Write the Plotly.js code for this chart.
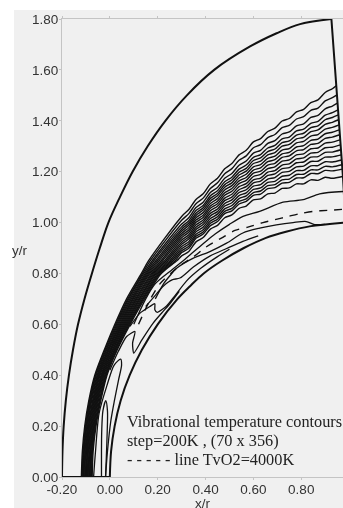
<!DOCTYPE html>
<html><head><meta charset="utf-8">
<script src="https://cdn.plot.ly/plotly-3.0.1.min.js"></script>
<style>html,body{margin:0;padding:0;background:#fff;overflow:hidden}
#bg{position:absolute;left:14px;top:10px;width:329px;height:498px;background:#f0f0f0}
#c{position:absolute;left:0;top:0;width:343px;height:508px;filter:blur(0.35px)}</style>
</head><body><div id="bg"></div><div id="c"></div>
<script>
const xTicks=[-0.2,0,0.2,0.4,0.6,0.8];
const xTickText=['-0.20','0.00','0.20','0.40','0.60','0.80'];
const yTicks=[0,0.2,0.4,0.6,0.8,1,1.2,1.4,1.6,1.8];
const yTickText=['0.00','0.20','0.40','0.60','0.80','1.00','1.20','1.40','1.60','1.80'];
const noteLines=['Vibrational temperature contours','step=200K , (70 x 356)','- - - - - line TvO2=4000K'];

const shockX=[-0.2,-0.198,-0.193,-0.184,-0.171,-0.154,-0.133,-0.106,-0.075,-0.042,-0.006,0.042,0.095,0.158,0.232,0.322,0.436,0.586,0.697,0.795,0.926];
const shockY=[0,0.1,0.2,0.3,0.4,0.5,0.6,0.7,0.8,0.9,1,1.1,1.2,1.3,1.4,1.5,1.6,1.692,1.744,1.78,1.8];
const outflowX=[0.926,0.975,0.985];
const outflowY=[1.8,1.17,1.0];
const baseX=[-0.2,0];
const baseY=[0,0];
const bodyX=[0,0.005,0.02,0.045,0.083,0.134,0.2,0.283,0.335,0.392,0.468,0.56,0.65,0.74,0.835,0.98];
const bodyY=[0,0.1,0.2,0.3,0.4,0.5,0.6,0.7,0.75,0.8,0.85,0.9,0.939,0.965,0.985,1.0];

const fanLeftY=[0,0.1,0.2,0.3,0.4,0.5,0.6,0.7,0.8,0.85];
const fanGridX=[0.30,0.33,0.36,0.39,0.42,0.45,0.48,0.51,0.54,0.57,0.60,0.63,0.66,0.69,0.72,0.75,0.78,0.81,0.84,0.87,0.90,0.93];

const fan01L=[-.119,-.115,-.105,-.088,-.063,-.023,.021,.07,.132,.162];
const fan02L=[-.116,-.112,-.102,-.085,-.060,-.020,.025,.075,.137,.169];
const fan03L=[-.113,-.109,-.099,-.082,-.057,-.016,.029,.079,.142,.177];
const fan04L=[-.111,-.107,-.096,-.079,-.053,-.013,.033,.084,.148,.184];
const fan05L=[-.108,-.104,-.093,-.076,-.050,-.009,.037,.089,.153,.192];
const fan06L=[-.105,-.101,-.090,-.072,-.047,-.006,.041,.094,.158,.199];
const fan07L=[-.102,-.098,-.088,-.069,-.044,-.003,.045,.098,.163,.206];
const fan08L=[-.099,-.095,-.085,-.066,-.041,.001,.049,.103,.168,.214];
const fan09L=[-.097,-.093,-.082,-.063,-.037,.004,.053,.108,.174,.221];
const fan10L=[-.094,-.090,-.079,-.060,-.034,.007,.057,.112,.179,.229];
const fan11L=[-.091,-.087,-.076,-.057,-.031,.011,.061,.117,.184,.236];
const fan12L=[-.088,-.084,-.073,-.054,-.028,.014,.065,.122,.189,.243];
const fan13L=[-.085,-.081,-.070,-.051,-.025,.018,.069,.126,.194,.251];
const fan14L=[-.083,-.079,-.067,-.048,-.021,.021,.073,.131,.200,.258];
const fan15L=[-.080,-.076,-.064,-.044,-.018,.024,.077,.136,.205,.265];
const fan16L=[-.077,-.073,-.061,-.041,-.015,.028,.081,.140,.210,.273];
const fan17L=[-.074,-.070,-.058,-.038,-.012,.031,.085,.145,.215,.280];

const fan01R=[1.024,1.051,1.091,1.113,1.152,1.174,1.211,1.232,1.266,1.284,1.317,1.330,1.358,1.371,1.399,1.409,1.435,1.445,1.471,1.482,1.511,1.526];
const fan02R=[1.009,1.035,1.074,1.096,1.134,1.156,1.192,1.212,1.245,1.262,1.294,1.306,1.334,1.346,1.373,1.382,1.407,1.416,1.441,1.450,1.478,1.491];
const fan03R=[.994,1.019,1.059,1.080,1.118,1.138,1.174,1.193,1.225,1.242,1.273,1.284,1.311,1.322,1.348,1.356,1.380,1.388,1.413,1.421,1.447,1.458];
const fan04R=[.983,1.007,1.047,1.067,1.105,1.125,1.160,1.178,1.210,1.226,1.256,1.267,1.293,1.303,1.329,1.336,1.360,1.367,1.390,1.398,1.422,1.432];
const fan05R=[.974,.998,1.037,1.058,1.095,1.114,1.149,1.167,1.198,1.213,1.244,1.254,1.279,1.289,1.314,1.321,1.344,1.351,1.373,1.380,1.404,1.413];
const fan06R=[.966,.989,1.028,1.049,1.085,1.105,1.139,1.156,1.187,1.202,1.232,1.241,1.266,1.275,1.300,1.307,1.329,1.335,1.357,1.364,1.386,1.394];
const fan07R=[.957,.980,1.019,1.039,1.075,1.094,1.128,1.145,1.175,1.190,1.219,1.228,1.252,1.261,1.285,1.291,1.313,1.319,1.340,1.346,1.367,1.374];
const fan08R=[.949,.971,1.010,1.029,1.065,1.084,1.117,1.134,1.164,1.177,1.206,1.215,1.239,1.247,1.270,1.276,1.297,1.302,1.323,1.328,1.349,1.355];
const fan09R=[.940,.962,1.001,1.020,1.056,1.074,1.107,1.123,1.153,1.166,1.194,1.202,1.226,1.233,1.256,1.262,1.282,1.287,1.307,1.311,1.331,1.336];
const fan10R=[.931,.952,.991,1.010,1.046,1.064,1.096,1.111,1.141,1.153,1.181,1.189,1.212,1.219,1.241,1.246,1.266,1.270,1.290,1.293,1.312,1.316];
const fan11R=[.923,.943,.982,1.001,1.036,1.053,1.086,1.100,1.129,1.141,1.168,1.175,1.198,1.204,1.226,1.231,1.250,1.254,1.273,1.276,1.294,1.296];
const fan12R=[.915,.935,.973,.992,1.026,1.043,1.075,1.089,1.118,1.129,1.156,1.163,1.185,1.191,1.212,1.216,1.235,1.238,1.257,1.259,1.276,1.277];
const fan13R=[.906,.925,.964,.982,1.016,1.033,1.065,1.078,1.106,1.117,1.143,1.149,1.171,1.177,1.197,1.201,1.219,1.222,1.240,1.241,1.257,1.258];
const fan14R=[.897,.916,.954,.972,1.006,1.023,1.054,1.067,1.094,1.105,1.130,1.136,1.158,1.162,1.182,1.186,1.204,1.205,1.223,1.224,1.239,1.238];
const fan15R=[.889,.907,.946,.963,.997,1.013,1.044,1.056,1.083,1.093,1.118,1.124,1.145,1.149,1.168,1.171,1.189,1.190,1.207,1.207,1.221,1.219];
const fan16R=[.882,.899,.938,.955,.988,1.004,1.035,1.046,1.073,1.083,1.107,1.112,1.133,1.137,1.155,1.158,1.175,1.176,1.193,1.192,1.205,1.203];
const fan17R=[.869,.886,.924,.941,.974,.989,1.019,1.030,1.056,1.065,1.089,1.093,1.113,1.116,1.134,1.136,1.152,1.152,1.168,1.166,1.178,1.174];

const fanEdgeX=[.946,.949,.951,.953,.955,.956,.958,.959,.961,.962,.964,.965,.967,.968,.970,.971,.973];
const fanEdgeY=[1.538,1.502,1.469,1.443,1.423,1.404,1.384,1.364,1.345,1.325,1.305,1.286,1.266,1.246,1.227,1.21,1.181];

const lineEX=[.10,.15,.19,.26,.30,.35,.40,.44,.50,.5565,.626,.724,.808,.877,.975];
const lineEY=[.60,.70,.76,.815,.845,.885,.925,.955,.993,1.024,1.044,1.08,1.09,1.113,1.122];
const dashX=[.12,.17,.21,.26,.307,.349,.404,.474,.523,.577,.64,.689,.745,.794,.85,.912,.975];
const dashY=[.60,.70,.76,.805,.84,.865,.905,.943,.969,.982,1.0,1.011,1.024,1.035,1.044,1.048,1.052];
const lineGX=[.19,.225,.25,.279,.349,.418,.488,.556,.626,.696,.766,.821,.856,.90];
const lineGY=[.70,.76,.79,.82,.86,.886,.919,.959,.978,.991,1.0,1.004,.992,.993];
const lineHX=[.15,.195,.223,.26,.293,.349,.418,.488,.556,.62];
const lineHY=[.67,.72,.75,.775,.782,.825,.868,.898,.926,.948];
const wiggleAX=[.084,.126,.167,.188,.188,.198,.237,.27,.32,.38,.45,.50];
const wiggleAY=[.592,.644,.670,.681,.657,.647,.672,.71,.77,.82,.866,.895];
const wiggleBX=[.0,.035,.07,.105,.095,.100,.134,.181,.22,.25,.29];
const wiggleBY=[.42,.493,.552,.572,.526,.487,.539,.605,.648,.68,.73];
const finger1X=[-.035,-.035,-.034,-.029,-.017,-.010,-.012,-.018];
const finger1Y=[0,.1,.18,.26,.30,.26,.15,0];
const finger2X=[-.068,-.06,-.045,-.012,.018,.045,.049,.036,.019,.004,-.010,-.018];
const finger2Y=[0,.1,.25,.36,.44,.463,.44,.38,.30,.22,.10,0];

const rows=[
 [fan01L,fan01R],[fan02L,fan02R],[fan03L,fan03R],[fan04L,fan04R],[fan05L,fan05R],[fan06L,fan06R],
 [fan07L,fan07R],[fan08L,fan08R],[fan09L,fan09R],[fan10L,fan10R],[fan11L,fan11R],[fan12L,fan12R],
 [fan13L,fan13R],[fan14L,fan14R],[fan15L,fan15R],[fan16L,fan16R],[fan17L,fan17R]];
function tr(x,y,w,shape,dash,sm){return {type:'scatter',mode:'lines',x:x,y:y,cliponaxis:false,hoverinfo:'skip',showlegend:false,
  line:{color:'#111',width:w,shape:shape||'spline',smoothing:sm||0.8,dash:dash||'solid'}};}
const traces=rows.map((r,i)=>tr(r[0].concat(fanGridX,[fanEdgeX[i]]),fanLeftY.concat(r[1],[fanEdgeY[i]]),1.4));
traces.push(tr(lineEX,lineEY,1.3),tr(dashX,dashY,1.4,'spline','8px,7px'),tr(lineGX,lineGY,1.3),tr(lineHX,lineHY,1.3),
 tr(wiggleAX,wiggleAY,1.3,'spline','solid',0.6),tr(wiggleBX,wiggleBY,1.3,'spline','solid',0.6),tr(finger1X,finger1Y,1.3),tr(finger2X,finger2Y,1.3),
 tr(shockX,shockY,2,'spline','solid',1),tr(outflowX,outflowY,2,'linear'),tr(baseX,baseY,2,'linear'),tr(bodyX,bodyY,2,'spline','solid',1));

const tf={family:'Liberation Sans, Arial, sans-serif',size:13.5,color:'#333'};
const layout={
 width:343,height:508,autosize:false,showlegend:false,
 paper_bgcolor:'rgba(0,0,0,0)',plot_bgcolor:'rgba(0,0,0,0)',
 margin:{l:62.3,r:0,t:19,b:30.7,pad:0},
 font:tf,
 xaxis:{range:[-0.2,0.9745],tickmode:'array',tickvals:xTicks,ticktext:xTickText,showgrid:false,zeroline:false,
   showline:true,linecolor:'#c4c4c4',linewidth:1,mirror:'ticks',ticks:'outside',ticklen:2,tickcolor:'#c4c4c4',tickfont:tf,ticklabelstandoff:-2,
   automargin:false},
 yaxis:{range:[0,1.8],tickmode:'array',tickvals:yTicks,ticktext:yTickText,showgrid:false,zeroline:false,
   showline:true,linecolor:'#c4c4c4',linewidth:1,ticks:'outside',ticklen:2,tickcolor:'#c4c4c4',tickfont:tf,ticklabelstandoff:-2,
   automargin:false},
 annotations:noteLines.map((t,i)=>({xref:'paper',yref:'paper',x:0.223,y:[0.1213,0.0798,0.0377][i],xanchor:'left',yanchor:'middle',
   text:t,showarrow:false,align:'left',font:{family:'Liberation Serif',size:16.3,color:'#222'}}))
  .concat([{xref:'paper',yref:'paper',x:-0.148,y:0.495,xanchor:'center',yanchor:'middle',text:'y/r',showarrow:false,font:tf},
           {xref:'paper',yref:'paper',x:0.5,y:-0.058,xanchor:'center',yanchor:'middle',text:'x/r',showarrow:false,font:tf}])
};
Plotly.newPlot('c',traces,layout,{displayModeBar:false,staticPlot:true});
</script></body></html>
